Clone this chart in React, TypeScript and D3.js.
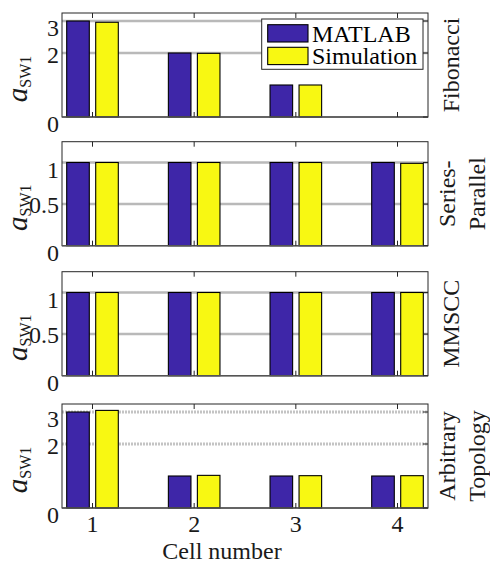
import React from 'react';
import * as d3 from 'd3';

// cell numbers on the x axis
const cells = [1, 2, 3, 4];
const seriesNames = ['MATLAB', 'Simulation'];
const seriesColors = ['#3e26a8', '#f8f812'];

// a_SW1 per cell
const fibonacciMatlab = [3, 2, 1, 0];
const fibonacciSim = [2.96, 1.99, 1, 0];
const seriesParallelMatlab = [1, 1, 1, 1];
const seriesParallelSim = [1, 1, 1, 0.99];
const mmsccMatlab = [1, 1, 1, 1];
const mmsccSim = [1, 1, 1, 1];
const arbitraryMatlab = [3, 1, 1, 1];
const arbitrarySim = [3.05, 1.02, 1.01, 1.01];

const ticksLarge = [0, 2, 3];
const ticksUnit = [0, 0.5, 1];

const panelLabels = [['Fibonacci'], ['Series-', 'Parallel'], ['MMSCC'], ['Arbitrary', 'Topology']];

const panels = [
  { label: panelLabels[0], series: [fibonacciMatlab, fibonacciSim], ymax: 3.25, ticks: ticksLarge, top: 13 },
  { label: panelLabels[1], series: [seriesParallelMatlab, seriesParallelSim], ymax: 1.25, ticks: ticksUnit, top: 141.7 },
  { label: panelLabels[2], series: [mmsccMatlab, mmsccSim], ymax: 1.25, ticks: ticksUnit, top: 271.7 },
  { label: panelLabels[3], series: [arbitraryMatlab, arbitrarySim], ymax: 3.25, ticks: ticksLarge, top: 404, dotted: true },
];

const W = 490;
const H = 565;
const left = 62;
const right = 428;
const panelH = 104;
const font = "'Liberation Serif', 'Times New Roman', Tinos, 'DejaVu Serif', serif";
const axisColor = '#262626';
const textColor = '#1a1a1a';
const gridColor = '#b9b9b9';

const x = d3.scaleLinear().domain([0.7, 4.3]).range([left, right]);
const groupW = 51.6;
const inner = d3.scaleBand<string>().domain(seriesNames).range([-groupW / 2, groupW / 2]).paddingInner(0.221).paddingOuter(0);

// MATLAB tick labels sit a little below their ticks
const labelShift = (t: number, ticks: number[]) => (t === ticks[1] ? (t === 0.5 ? 0 : 2) : 7);

const txt = { fontFamily: font };

function Panel({ p }: { p: typeof panels[number] }) {
  const y = d3.scaleLinear().domain([0, p.ymax]).range([p.top + panelH, p.top]);
  const bottom = p.top + panelH;
  const cy = p.top + panelH / 2;
  return (
    <g>
      {p.ticks.filter((t) => t > 0).map((t) => (
        <line key={'g' + t} x1={left} x2={right} y1={y(t)} y2={y(t)}
          stroke={p.dotted ? '#c4c4c4' : gridColor} strokeWidth={p.dotted ? 3 : 2.5}
          strokeDasharray={p.dotted ? '2,1' : undefined} />
      ))}
      {p.series.map((vals, si) =>
        cells.map((c, ci) => {
          const v = vals[ci];
          if (!v) return null;
          return (
            <rect key={si + '-' + c} x={x(c) + (inner(seriesNames[si]) as number)} y={y(v)}
              width={inner.bandwidth()} height={bottom - y(v)} fill={seriesColors[si]}
              stroke="#000" strokeWidth={1.1} />
          );
        })
      )}
      {/* axes box */}
      <rect x={left} y={p.top} width={right - left} height={panelH} fill="none" stroke={axisColor} strokeWidth={1} />
      <line x1={left} x2={right} y1={bottom} y2={bottom} stroke="#555" strokeWidth={1.6} />
      {cells.map((c) => (
        <g key={'xt' + c}>
          <line x1={x(c)} x2={x(c)} y1={p.top} y2={p.top + 5} stroke={axisColor} />
          <line x1={x(c)} x2={x(c)} y1={bottom} y2={bottom - 5} stroke={axisColor} />
        </g>
      ))}
      {p.ticks.map((t) => (
        <g key={'yt' + t}>
          <line x1={right} x2={right - 5} y1={y(t)} y2={y(t)} stroke={axisColor} />
          <text x={59} y={y(t) + labelShift(t, p.ticks)} dy="0.35em" textAnchor="end" fontSize={24}
            style={txt} fill={textColor}>{String(t)}</text>
        </g>
      ))}
      {/* y label */}
      <text transform={`translate(27,${cy + 14}) rotate(-90)`} textAnchor="middle" style={txt} fill={textColor}>
        <tspan fontStyle="italic" fontSize={29}>a</tspan>
        <tspan fontSize={16} dy={3.5}>SW1</tspan>
      </text>
      {/* panel label on the right */}
      {p.label.map((line, li) => (
        <text key={line} transform={`translate(${p.label.length > 1 ? 455 + li * 30 : 459},${cy}) rotate(-90)`}
          textAnchor="middle" fontSize={24} style={txt} fill={textColor}>{line}</text>
      ))}
    </g>
  );
}

export default function App() {
  const last = panels[panels.length - 1];
  const lastBottom = last.top + panelH;
  return (
    <svg width={W} height={H} style={{ position: 'absolute', left: 0, top: 0, background: '#fff' }}>
      <rect width={W} height={H} fill="#fff" />
      {panels.map((p, i) => <Panel key={i} p={p} />)}
      {cells.map((c) => (
        <text key={'xl' + c} x={x(c)} y={lastBottom + 24} textAnchor="middle" fontSize={24} style={txt}
          fill={textColor}>{c}</text>
      ))}
      <text x={222} y={559} textAnchor="middle" fontSize={24} style={txt} fill={textColor}>Cell number</text>
      {/* legend */}
      <g>
        <rect x={261.7} y={19} width={161.3} height={50.3} fill="#fff" stroke={axisColor} strokeWidth={1} />
        {seriesNames.map((s, i) => (
          <g key={s}>
            <rect x={267.7} y={24.7 + i * 22.6} width={40.3} height={17.3} fill={seriesColors[i]} stroke="#000" strokeWidth={1.1} />
            <text x={312} y={42 + i * 22} fontSize={24} style={txt} fill="#000">{s}</text>
          </g>
        ))}
      </g>
    </svg>
  );
}
